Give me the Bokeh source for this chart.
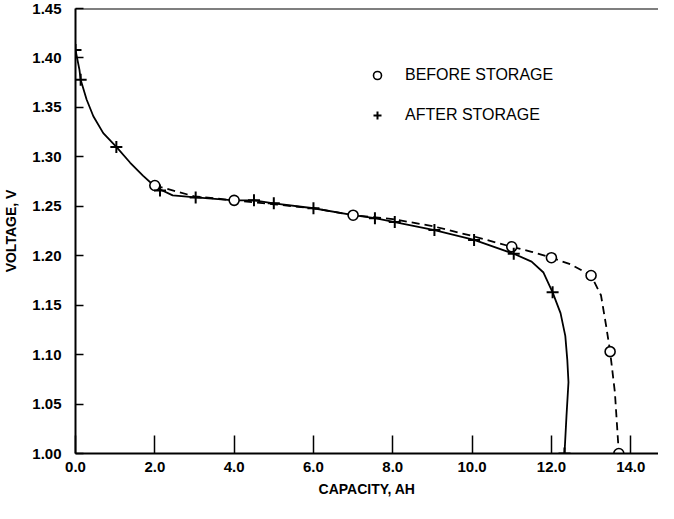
from bokeh.plotting import figure
from bokeh.models import Range1d, Span, Legend, LegendItem, FixedTicker
from bokeh.embed import file_html
from bokeh.resources import INLINE

# --- data ---
# markers: before storage (open circles)
before_x = [2.0, 4.0, 7.0, 11.0, 12.0, 13.0, 13.48, 13.7]
before_y = [1.271, 1.256, 1.241, 1.209, 1.198, 1.180, 1.103, 1.000]
# markers: after storage (+)
after_x = [0.0, 0.13, 1.03, 2.13, 3.03, 4.5, 5.0, 6.0, 7.55, 8.05, 9.05, 10.05, 11.05, 12.03, 12.33]
after_y = [1.408, 1.378, 1.310, 1.266, 1.259, 1.256, 1.253, 1.248, 1.238, 1.234, 1.226, 1.216, 1.202, 1.163, 1.000]
# traced curves
before_curve_x = [2.0, 3.0, 4.0, 5.0, 6.0, 7.0, 8.0, 9.0, 10.0, 11.0, 11.5, 12.0, 12.5, 13.0, 13.25, 13.38, 13.48, 13.6, 13.7]
before_curve_y = [1.271, 1.260, 1.256, 1.252, 1.248, 1.241, 1.237, 1.230, 1.220, 1.209, 1.204, 1.198, 1.191, 1.180, 1.160, 1.129, 1.103, 1.062, 1.000]
after_curve_x = [0.0, 0.1, 0.13, 0.28, 0.45, 0.7, 1.03, 1.38, 1.7, 2.03, 2.45, 3.03, 4.0, 4.5, 5.0, 6.0, 7.0, 7.55, 8.05, 9.05, 10.05, 11.05, 11.5, 11.8, 12.03, 12.23, 12.35, 12.4, 12.43, 12.38, 12.33]
after_curve_y = [1.408, 1.388, 1.378, 1.358, 1.341, 1.324, 1.310, 1.294, 1.281, 1.269, 1.261, 1.259, 1.256, 1.256, 1.253, 1.248, 1.241, 1.238, 1.234, 1.226, 1.216, 1.202, 1.194, 1.183, 1.163, 1.142, 1.119, 1.095, 1.072, 1.038, 1.000]

x_ticks = [0, 2, 4, 6, 8, 10, 12, 14]
x_tick_labels = ["0.0", "2.0", "4.0", "6.0", "8.0", "10.0", "12.0", "14.0"]
y_ticks = [1.00, 1.05, 1.10, 1.15, 1.20, 1.25, 1.30, 1.35, 1.40, 1.45]
y_tick_labels = ["1.00", "1.05", "1.10", "1.15", "1.20", "1.25", "1.30", "1.35", "1.40", "1.45"]

FONT = "Liberation Sans"

p = figure(width=658, height=503, output_backend="svg", toolbar_location=None,
           x_range=Range1d(0, 14.7), y_range=Range1d(1.0, 1.45),
           min_border_left=70, min_border_top=8, min_border_bottom=50, min_border_right=0)
p.outline_line_color = None
p.grid.visible = False
p.background_fill_color = "white"

p.add_layout(Span(location=1.45, dimension="width", line_color="black", line_width=2))

# curves
p.line(before_curve_x, before_curve_y, line_color="black", line_width=1.8, line_dash="8 5")
p.line(after_curve_x, after_curve_y, line_color="black", line_width=1.8)

r_before = p.scatter(before_x, before_y, marker="circle", size=10, fill_color="white",
                     line_color="black", line_width=1.6)
r_after = p.scatter(after_x, after_y, marker="cross", size=12, line_color="black", line_width=2)

# axes
xa = p.xaxis[0]
xa.ticker = FixedTicker(ticks=x_ticks)
xa.major_label_overrides = {t: l for t, l in zip(x_ticks, x_tick_labels)}
xa.major_tick_in = 18
xa.major_tick_out = 0
xa.minor_tick_line_color = None
xa.axis_line_width = 2
xa.major_tick_line_width = 1.5
xa.axis_label = "CAPACITY, AH"
xa.axis_label_standoff = 6
xa.major_label_standoff = 8

ya = p.yaxis[0]
ya.ticker = FixedTicker(ticks=y_ticks)
ya.major_label_overrides = {t: l for t, l in zip(y_ticks, y_tick_labels)}
ya.major_tick_in = 8
ya.major_tick_out = 0
ya.minor_tick_line_color = None
ya.axis_line_width = 2
ya.major_tick_line_width = 1.5
ya.axis_label = "VOLTAGE, V"
ya.axis_label_standoff = 10
ya.major_label_standoff = 14

for ax in (xa, ya):
    ax.major_label_text_font = FONT
    ax.major_label_text_font_style = "bold"
    ax.major_label_text_font_size = "15px"
    ax.major_label_text_color = "black"
    ax.axis_label_text_font = FONT
    ax.axis_label_text_font_style = "bold"
    ax.axis_label_text_font_size = "14px"
    ax.axis_label_text_color = "black"
    ax.axis_line_color = "black"
    ax.major_tick_line_color = "black"

legend = Legend(items=[LegendItem(label="BEFORE STORAGE", renderers=[r_before]),
                       LegendItem(label="AFTER STORAGE", renderers=[r_after])],
                location=(292, 328), padding=0, margin=0, spacing=20,
                label_standoff=18, glyph_width=20, glyph_height=20,
                border_line_color=None, background_fill_alpha=0,
                label_text_font=FONT, label_text_font_size="16px",
                label_text_color="black")
p.add_layout(legend)

open("out.html", "w").write(file_html(p, INLINE))
